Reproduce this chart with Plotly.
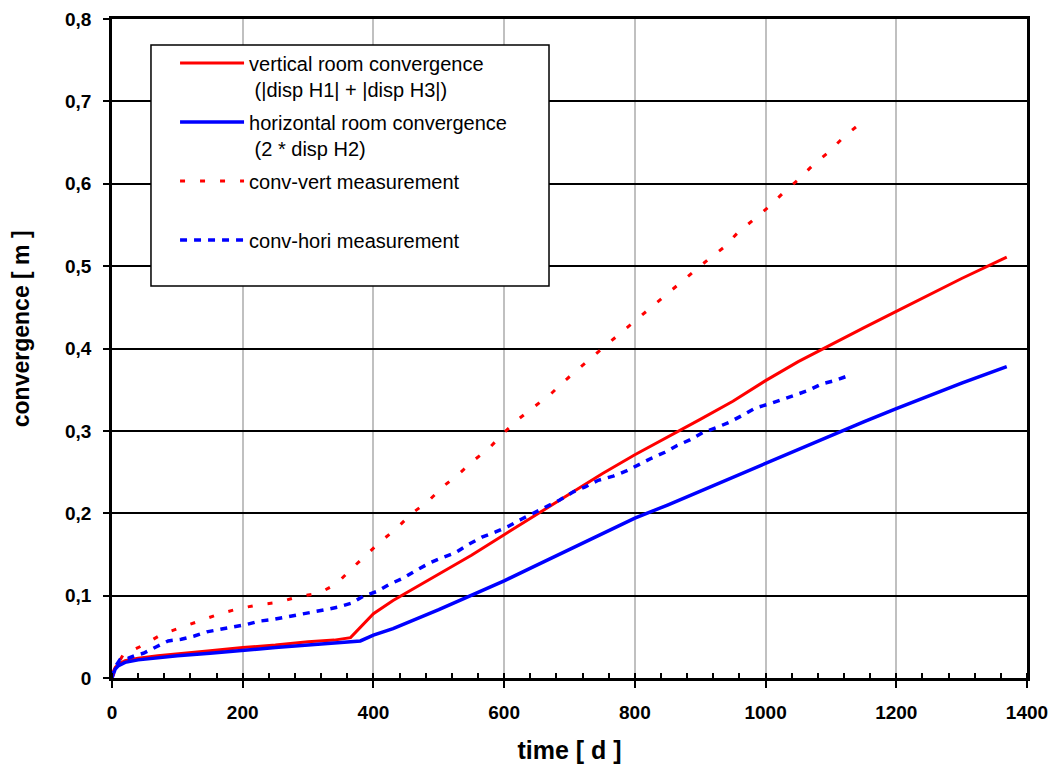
import plotly.graph_objects as go

# ---- data ----
sim_days_vert = [0, 2, 5, 10, 20, 40, 70, 100, 150, 200, 250, 300, 340, 365, 380, 400, 430, 460,
                 500, 550, 600, 650, 700, 750, 800, 850, 900, 950, 1000, 1050, 1100, 1150, 1200,
                 1250, 1300, 1369]
sim_conv_vert = [0, 0.008, 0.013, 0.017, 0.021, 0.024, 0.027, 0.029, 0.033, 0.037, 0.040, 0.044,
                 0.046, 0.049, 0.062, 0.078, 0.094, 0.108, 0.126, 0.149, 0.174, 0.199, 0.224, 0.248,
                 0.271, 0.292, 0.314, 0.336, 0.361, 0.384, 0.404, 0.425, 0.445, 0.465, 0.485, 0.511]

sim_days_hori = [0, 2, 5, 10, 20, 40, 70, 100, 150, 200, 250, 300, 350, 380, 400, 430, 500, 550,
                 600, 650, 700, 750, 800, 850, 900, 950, 1000, 1050, 1100, 1150, 1200, 1250, 1300,
                 1369]
sim_conv_hori = [0, 0.006, 0.011, 0.015, 0.019, 0.022, 0.025, 0.027, 0.030, 0.034, 0.037, 0.040,
                 0.043, 0.045, 0.052, 0.060, 0.083, 0.100, 0.118, 0.137, 0.156, 0.175, 0.194, 0.210,
                 0.227, 0.243, 0.261, 0.278, 0.295, 0.311, 0.327, 0.343, 0.358, 0.378]

meas_days_vert = [0, 5, 17, 48, 76, 104, 135, 165, 193, 225, 256, 286, 317, 343, 367, 390, 410,
                  436, 459, 483, 506, 531, 555, 577, 600, 623, 646, 673, 693, 720, 750, 780, 810,
                  840, 870, 890, 912, 935, 958, 981, 1005, 1027, 1050, 1073, 1096, 1120, 1140]
meas_conv_vert = [0, 0.012, 0.028, 0.040, 0.053, 0.061, 0.069, 0.078, 0.084, 0.089, 0.092, 0.099,
                  0.103, 0.114, 0.133, 0.150, 0.165, 0.182, 0.200, 0.214, 0.232, 0.248, 0.265,
                  0.279, 0.298, 0.315, 0.329, 0.346, 0.361, 0.380, 0.400, 0.420, 0.440, 0.460,
                  0.480, 0.494, 0.508, 0.522, 0.541, 0.556, 0.572, 0.589, 0.605, 0.623, 0.638,
                  0.657, 0.670]

meas_days_hori = [0, 2, 12, 25, 38, 48, 68, 86, 106, 126, 145, 166, 187, 206, 225, 246, 266, 288,
                  306, 327, 346, 367, 384, 405, 425, 445, 466, 487, 505, 525, 545, 566, 586, 606,
                  627, 645, 667, 685, 706, 724, 744, 767, 786, 805, 826, 846, 864, 884, 904, 925,
                  946, 965, 985, 1007, 1025, 1047, 1065, 1086, 1106, 1130]
meas_conv_hori = [0, 0.010, 0.022, 0.024, 0.028, 0.030, 0.038, 0.045, 0.047, 0.051, 0.056, 0.059,
                  0.062, 0.065, 0.069, 0.071, 0.074, 0.077, 0.080, 0.083, 0.086, 0.091, 0.099,
                  0.105, 0.114, 0.121, 0.131, 0.140, 0.146, 0.152, 0.162, 0.171, 0.177, 0.184,
                  0.193, 0.200, 0.208, 0.216, 0.226, 0.232, 0.240, 0.245, 0.251, 0.259, 0.267,
                  0.274, 0.282, 0.289, 0.298, 0.304, 0.311, 0.319, 0.328, 0.333, 0.338, 0.344,
                  0.349, 0.357, 0.361, 0.368]

x_tickvals = [0, 200, 400, 600, 800, 1000, 1200, 1400]
x_ticktext = ["0", "200", "400", "600", "800", "1000", "1200", "1400"]
y_tickvals = [0, 0.1, 0.2, 0.3, 0.4, 0.5, 0.6, 0.7, 0.8]
y_ticktext = ["0", "0,1", "0,2", "0,3", "0,4", "0,5", "0,6", "0,7", "0,8"]

names = ["vertical room convergence<br> (|disp H1| + |disp H3|)",
         "horizontal room convergence<br> (2 * disp H2)",
         "conv-vert measurement<br> ",
         "conv-hori measurement<br> "]

FONT = "Liberation Sans, Arial, sans-serif"

fig = go.Figure()
fig.add_trace(go.Scatter(x=sim_days_vert, y=sim_conv_vert, mode="lines", name=names[0],
                         line=dict(color="#ff0000", width=3), legendgroup="a"))
fig.add_trace(go.Scatter(x=sim_days_hori, y=sim_conv_hori, mode="lines", name=names[1],
                         line=dict(color="#0000ff", width=3.5), legendgroup="b"))
fig.add_trace(go.Scatter(x=meas_days_vert, y=meas_conv_vert, mode="lines", name=names[2],
                         line=dict(color="#ff0000", width=3, dash="5px,15px"), legendgroup="c"))
fig.add_trace(go.Scatter(x=meas_days_hori, y=meas_conv_hori, mode="lines", name=names[3],
                         line=dict(color="#0000ff", width=3.5, dash="7px,7px"), legendgroup="d"))

fig.update_layout(
    width=1040, height=756,
    margin=dict(l=104, r=21, t=11, b=86, autoexpand=False),
    paper_bgcolor="white", plot_bgcolor="white",
    font=dict(family=FONT, color="black"),
    showlegend=True,
    legend=dict(x=0.0689, y=0.963, xanchor="left", yanchor="top",
                bgcolor="rgba(0,0,0,0)", borderwidth=0,
                font=dict(family=FONT, size=20, color="black"),
                valign="top", tracegroupgap=4, itemwidth=64),
    shapes=[dict(type="rect", xref="paper", yref="paper", x0=0.0426, x1=0.4776,
                 y0=0.5948, y1=0.9605, layer="above", fillcolor="white",
                 line=dict(color="black", width=1.5))],
    annotations=[dict(text="<b>convergence [ m ]</b>", textangle=-90, showarrow=False,
                      xref="paper", yref="paper", x=-0.1, y=0.53,
                      xanchor="center", yanchor="middle",
                      font=dict(family=FONT, size=23, color="black"))],
)

fig.update_xaxes(range=[0, 1400], tickvals=x_tickvals, ticktext=x_ticktext,
                 automargin=False, ticklabeloverflow="allow",
                 showgrid=True, gridcolor="#c0c0c0", gridwidth=2,
                 showline=True, linecolor="black", linewidth=2.5, mirror=True,
                 ticks="outside", ticklen=7, tickwidth=2, tickcolor="black",
                 minor=dict(dtick=40, ticks="inside", ticklen=5, tickwidth=1.5,
                            tickcolor="black", showgrid=False),
                 tickfont=dict(family=FONT, size=19, color="black", weight="bold"),
                 ticklabelstandoff=8, zeroline=False,
                 title=dict(text="<b>time [ d ]</b>", font=dict(family=FONT, size=25, color="black"),
                            standoff=30))
fig.update_yaxes(range=[0, 0.8], tickvals=y_tickvals, ticktext=y_ticktext,
                 automargin=False, ticklabeloverflow="allow",
                 showgrid=True, gridcolor="black", gridwidth=1.5,
                 showline=True, linecolor="black", linewidth=2.5, mirror=True,
                 ticks="outside", ticklen=6, tickwidth=1.5, tickcolor="black",
                 tickfont=dict(family=FONT, size=19, color="black", weight="bold"),
                 ticklabelstandoff=8, zeroline=False)

fig.write_html("out.html")
